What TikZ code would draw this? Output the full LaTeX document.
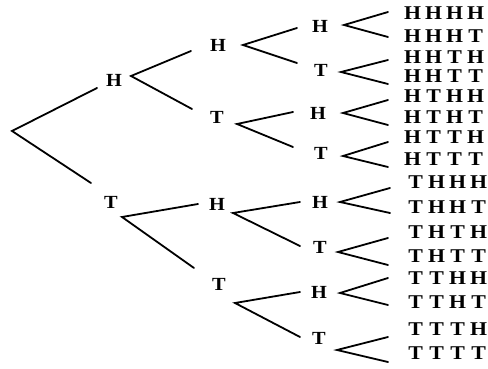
\documentclass[tikz,border=0pt]{standalone}
\usepackage{fontspec}
\setmainfont{Liberation Serif}
\newcommand\cell[1]{\makebox[21pt]{\scalebox{1.12}[1]{#1}}}
\newcommand\seq[4]{\cell{#1}\cell{#2}\cell{#3}\cell{#4}}
\begin{document}
\begin{tikzpicture}[x=1pt,y=-1pt,
  lbl/.style={font=\fontsize{18.5}{18.5}\selectfont\bfseries, inner sep=0pt, xscale=1.1},
  leaf/.style={font=\fontsize{19.5}{19.5}\selectfont\bfseries, inner sep=0pt, anchor=west},
  br/.style={line width=1.8pt, line cap=round}]
\useasboundingbox (0,0) rectangle (488,369);

% coin outcomes, level by level
\node[lbl] (H)   at (114,80)  {H};
\node[lbl] (T)   at (111,202) {T};
\node[lbl] (HH)  at (218,45)  {H};
\node[lbl] (HT)  at (217,117) {T};
\node[lbl] (TH)  at (217,204) {H};
\node[lbl] (TT)  at (219,284) {T};
\node[lbl] (HHH) at (320,26)  {H};
\node[lbl] (HHT) at (321,70)  {T};
\node[lbl] (HTH) at (318,113) {H};
\node[lbl] (HTT) at (321,153) {T};
\node[lbl] (THH) at (320,202) {H};
\node[lbl] (THT) at (320,247) {T};
\node[lbl] (TTH) at (319,292) {H};
\node[lbl] (TTT) at (319,338) {T};

% final sequences
\node[leaf] (l1)  at (402,13)  {\seq HHHH};
\node[leaf] (l2)  at (402,36)  {\seq HHHT};
\node[leaf] (l3)  at (402,57)  {\seq HHTH};
\node[leaf] (l4)  at (402,76)  {\seq HHTT};
\node[leaf] (l5)  at (402,96)  {\seq HTHH};
\node[leaf] (l6)  at (402,117) {\seq HTHT};
\node[leaf] (l7)  at (402,137) {\seq HTTH};
\node[leaf] (l8)  at (402,159) {\seq HTTT};
\node[leaf] (l9)  at (405,182) {\seq THHH};
\node[leaf] (l10) at (405,207) {\seq THHT};
\node[leaf] (l11) at (405,232) {\seq THTH};
\node[leaf] (l12) at (405,256) {\seq THTT};
\node[leaf] (l13) at (405,278) {\seq TTHH};
\node[leaf] (l14) at (405,302) {\seq TTHT};
\node[leaf] (l15) at (405,329) {\seq TTTH};
\node[leaf] (l16) at (405,353) {\seq TTTT};

% fork points and branch ends
\coordinate (r)    at (12,131);
\coordinate (rH)   at (97,88);   \coordinate (rT)   at (91,183);
\coordinate (vH)   at (131,76);  \coordinate (vHa)  at (191,51);  \coordinate (vHb)  at (192,109);
\coordinate (vT)   at (122,217); \coordinate (vTa)  at (198,204); \coordinate (vTb)  at (194,268);
\coordinate (vHH)  at (243,45);  \coordinate (vHHa) at (297,28);  \coordinate (vHHb) at (297,63);
\coordinate (vHT)  at (237,124); \coordinate (vHTa) at (293,112); \coordinate (vHTb) at (293,147);
\coordinate (vTH)  at (233,213); \coordinate (vTHa) at (300,202); \coordinate (vTHb) at (300,246);
\coordinate (vTT)  at (235,303); \coordinate (vTTa) at (300,292); \coordinate (vTTb) at (300,337);

\coordinate (v1) at (344,25);  \coordinate (v1a) at (388,12);  \coordinate (v1b) at (388,37);
\coordinate (v2) at (341,72);  \coordinate (v2a) at (388,60);  \coordinate (v2b) at (388,84);
\coordinate (v3) at (343,113); \coordinate (v3a) at (388,100); \coordinate (v3b) at (388,125);
\coordinate (v4) at (343,156); \coordinate (v4a) at (388,142); \coordinate (v4b) at (388,167);
\coordinate (v5) at (340,202); \coordinate (v5a) at (390,188); \coordinate (v5b) at (390,213);
\coordinate (v6) at (338,252); \coordinate (v6a) at (388,238); \coordinate (v6b) at (388,265);
\coordinate (v7) at (340,293); \coordinate (v7a) at (388,278); \coordinate (v7b) at (388,305);
\coordinate (v8) at (337,350); \coordinate (v8a) at (388,337); \coordinate (v8b) at (388,362);

% branches
\draw[br] (rH) -- (r) -- (rT);
\foreach \v in {vH,vT,vHH,vHT,vTH,vTT,v1,v2,v3,v4,v5,v6,v7,v8}
  \draw[br] (\v a) -- (\v) -- (\v b);
\end{tikzpicture}
\end{document}
